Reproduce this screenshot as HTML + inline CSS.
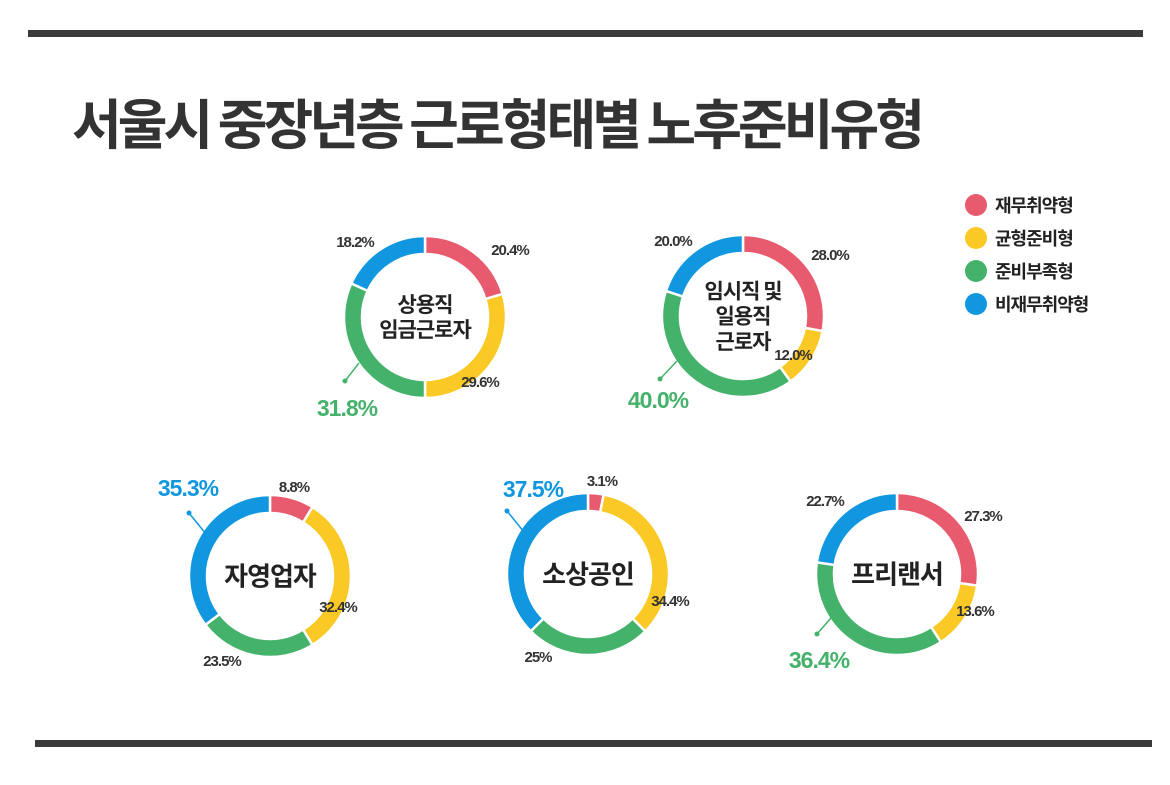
<!DOCTYPE html>
<html><head><meta charset="utf-8">
<style>
body{margin:0;width:1170px;height:780px;background:#fff;overflow:hidden;font-family:"Liberation Sans","Noto Sans CJK KR",sans-serif;}
</style></head>
<body>
<svg width="1170" height="780" xmlns="http://www.w3.org/2000/svg" id="svg">
<rect x="28" y="30" width="1115" height="7" fill="#3a3a3a"/>
<rect x="35" y="740" width="1117" height="7" fill="#3a3a3a"/>
<text x="72" y="144" font-size="54" font-weight="bold" fill="#333" letter-spacing="-3.9" font-family="Noto Sans CJK KR, sans-serif">서울시 중장년층 근로형태별 노후준비유형</text>
<g id="legend"></g>
<g id="charts"></g>
</svg>
<script>
const categories=['재무취약형','균형준비형','준비부족형','비재무취약형'];
const colors=['#e85a6e','#fbc926','#45b26b','#1097e0'];
const groups=[['상용직','임금근로자'],['임시직 및','일용직','근로자'],['자영업자'],['소상공인'],['프리랜서']];
const groupValues=[[20.4,29.6,31.8,18.2],[28.0,12.0,40.0,20.0],[8.8,32.4,23.5,35.3],[3.1,34.4,25,37.5],[27.3,13.6,36.4,22.7]];
const valueLabels=[['20.4%','29.6%','31.8%','18.2%'],['28.0%','12.0%','40.0%','20.0%'],['8.8%','32.4%','23.5%','35.3%'],['3.1%','34.4%','25%','37.5%'],['27.3%','13.6%','36.4%','22.7%']];
// layout
const centers=[[425,317],[743,316],[270,576],[588,574],[897,574]];
const labelPos=[[[85,-62],[55,70],[-78,99],[-70,-70]],[[87,-56],[50,44],[-85,92],[-70,-70]],[[24,-84],[68,36],[-48,90],[-82,-80]],[[14,-88],[82,32],[-50,88],[-55,-77]],[[86,-53],[78,42],[-78,94],[-72,-68]]];
const leaders=[[[-80,64],[-66,46]],[[-83,63],[-66,45]],[[-81,-63],[-64,-42]],[[-81,-63],[-64,-42]],[[-80,60],[-66,44]]];
const ns='http://www.w3.org/2000/svg';
const svg=document.getElementById('charts');
function mk(tag,attrs,parent){const e=document.createElementNS(ns,tag);for(const k in attrs)e.setAttribute(k,attrs[k]);parent.appendChild(e);return e;}
const R=81,r=63;
function pt(cx,cy,rad,a){return [cx+rad*Math.sin(a),cy-rad*Math.cos(a)];}
groupValues.forEach((vals,gi)=>{
  const [cx,cy]=centers[gi];
  const g=mk('g',{},svg);
  
  
  const tot=vals.reduce((a,b)=>a+b,0);
  let a0=0;let maxI=vals.indexOf(Math.max(...vals));
  vals.forEach((v,i)=>{
    const a1=a0+v/tot*2*Math.PI;
    const large=(a1-a0)>Math.PI?1:0;
    const p1=pt(cx,cy,R,a0),p2=pt(cx,cy,R,a1),p3=pt(cx,cy,r,a1),p4=pt(cx,cy,r,a0);
    const p=mk('path',{d:`M${p1}A${R},${R} 0 ${large} 1 ${p2}L${p3}A${r},${r} 0 ${large} 0 ${p4}Z`,fill:colors[i],stroke:'#fff','stroke-width':2.5},g);
    
    
    a0=a1;
    const [lx,ly]=labelPos[gi][i];
    const hi=i===maxI;
    const t=mk('text',{x:cx+lx,y:cy+ly,'text-anchor':'middle','font-size':hi?23:15,'font-weight':'bold','letter-spacing':-1,fill:hi?colors[i]:'#333'},g);
    t.textContent=valueLabels[gi][i];
    
    
  });
  const L=leaders[gi];const cl=colors[maxI];
  const ln=mk('line',{x1:cx+L[0][0],y1:cy+L[0][1],x2:cx+L[1][0],y2:cy+L[1][1],stroke:cl,'stroke-width':1.5},g);
  
  
  const dot=mk('circle',{cx:cx+L[0][0],cy:cy+L[0][1],r:2.5,fill:cl},g);
  
  
  const lines=groups[gi];const fs=lines.length===1?26:21;const lh=fs*1.2;
  lines.forEach((s,k)=>{
    const t=mk('text',{x:cx,y:cy+(k-(lines.length-1)/2)*lh+fs*0.36,'text-anchor':'middle','font-size':fs,'font-weight':'bold',fill:'#222','letter-spacing':-1,'font-family':'Noto Sans CJK KR, sans-serif'},g);
    t.textContent=s;
    
    
  });
});
const lg=document.getElementById('legend');
categories.forEach((c,i)=>{
  const y=205+i*33;
  const ci=mk('circle',{cx:976,cy:y,r:11,fill:colors[i]},lg);
  
  
  const t=mk('text',{x:995,y:y+7,'font-size':18,'font-weight':'bold',fill:'#222','letter-spacing':-1,'font-family':'Noto Sans CJK KR, sans-serif'},lg);
  t.textContent=c;
  
  
});
</script>
</body></html>
